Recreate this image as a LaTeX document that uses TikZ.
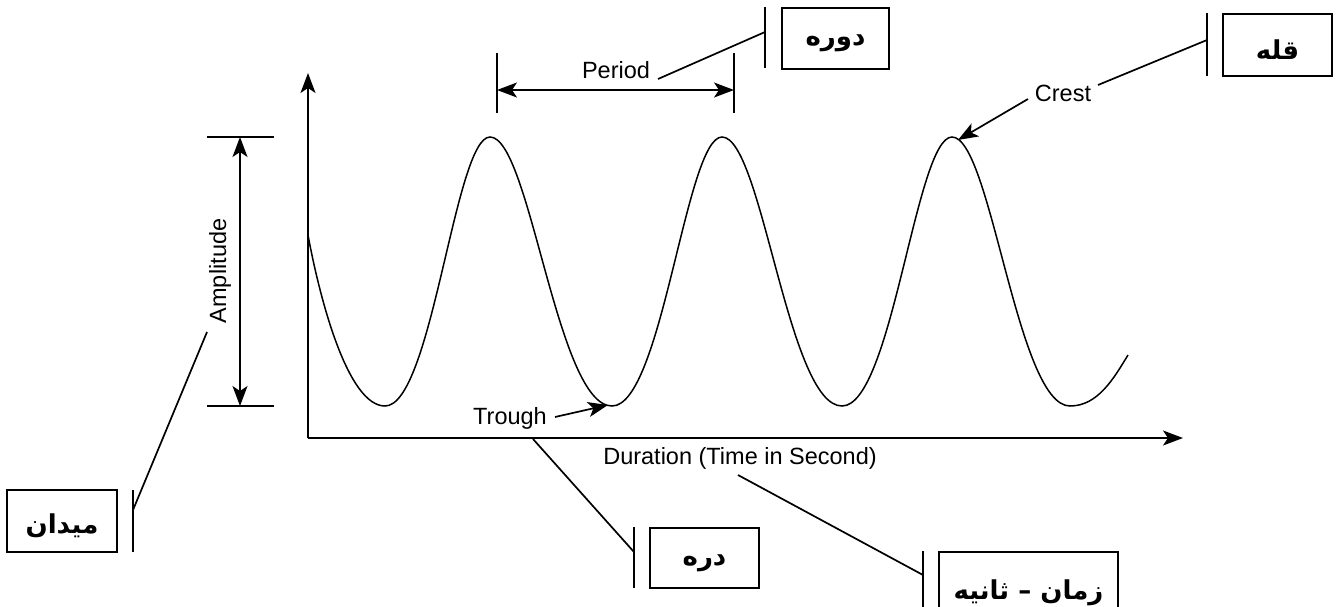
\documentclass[tikz,border=0pt]{standalone}
\usepackage{fontspec}
\setmainfont{Liberation Sans}
\newfontfamily\fa[Script=Arabic]{DejaVu Sans}
\TeXXeTstate=1
\usetikzlibrary{arrows.meta}
\tikzset{
  ln/.style={line width=1.7pt},
  wave/.style={line width=1.5pt},
  tip/.style={-{Stealth[length=20pt,width=15pt,inset=5pt]}},
  dtip/.style={{Stealth[length=20pt,width=15pt,inset=5pt]}-{Stealth[length=20pt,width=15pt,inset=5pt]}},
  lbl/.style={font=\fontsize{23.5}{28}\selectfont, inner sep=0pt},
  fabox/.style={draw, line width=1.7pt, inner sep=0pt},
  fatxt/.style={font=\fa\bfseries\fontsize{26}{30}\selectfont, inner sep=0pt, yshift=-5pt}
}
\begin{document}
\begin{tikzpicture}[x=1pt,y=-1pt]
\useasboundingbox (0,0) rectangle (1336,606);
% axes
\coordinate (O) at (308,438);
\coordinate (Ytop) at (308,73);
\coordinate (Xend) at (1183,438);
\draw[ln,tip] (O) -- (Ytop);
\draw[ln,tip] (O) -- (Xend);
% wave
\draw[wave] (308,235) .. controls (320,300) and (348,406) .. (385,406)
  .. controls (432,406) and (455,137) .. (490,137)
  .. controls (530,137) and (557,406) .. (612,406)
  .. controls (662,406) and (686,137) .. (722,137)
  .. controls (762,137) and (788,406) .. (842,406)
  .. controls (892,406) and (916,137) .. (952,137)
  .. controls (991,137) and (1017,406) .. (1070,406)
  .. controls (1098,406) and (1114,378) .. (1128,355);
% amplitude
\coordinate (At1) at (207,137); \coordinate (At2) at (274,137);
\coordinate (Ab1) at (207,406); \coordinate (Ab2) at (274,406);
\coordinate (Atop) at (240,137); \coordinate (Abot) at (240,406);
\draw[ln] (At1) -- (At2);
\draw[ln] (Ab1) -- (Ab2);
\draw[ln,dtip] (Atop) -- (Abot);
\node[lbl,rotate=90] (amp) at (220,271) {Amplitude};
% period
\coordinate (P1t) at (497,53); \coordinate (P1b) at (497,113);
\coordinate (P2t) at (734,53); \coordinate (P2b) at (734,113);
\coordinate (P1) at (497,90); \coordinate (P2) at (734,90);
\draw[ln] (P1t) -- (P1b);
\draw[ln] (P2t) -- (P2b);
\draw[ln,dtip] (P1) -- (P2);
\node[lbl] (period) at (616,70) {Period};
% crest
\node[lbl] (crest) at (1063,93) {Crest};
\coordinate (Ctip) at (958,140);
\draw[ln,tip] (1028,99) -- (Ctip);
% trough
\node[lbl] (trough) at (510,418) {Trough};
\coordinate (Ttip) at (608,405);
\draw[ln,tip] (555,417) -- (Ttip);
% duration
\node[lbl] (dur) at (740,458) {Duration (Time in Second)};
% Persian boxes
\node[fabox, minimum width=107pt, minimum height=61pt] (dawra) at (835.5,38.5) {};
\node[fatxt] (dawraT) at (dawra.center) {\beginR دوره\endR};
\node[fabox, minimum width=109pt, minimum height=62pt] (qolla) at (1277.5,45) {};
\node[fatxt] (qollaT) at (qolla.center) {\beginR قله\endR};
\node[fabox, minimum width=109pt, minimum height=60pt] (darre) at (704.5,558) {};
\node[fatxt] (darreT) at (darre.center) {\beginR دره\endR};
\node[fabox, minimum width=179pt, minimum height=72pt] (zaman) at (1028.5,588) {};
\node[fatxt] (zamanT) at (zaman.center) {\beginR زمان – ثانیه\endR};
\node[fabox, minimum width=110pt, minimum height=62pt] (meydan) at (62,521) {};
\node[fatxt] (meydanT) at (meydan.center) {\beginR میدان\endR};
% bars
\coordinate (B1t) at (765,7); \coordinate (B1b) at (765,68);
\coordinate (B2t) at (1207,13); \coordinate (B2b) at (1207,76);
\coordinate (B3t) at (634,527); \coordinate (B3b) at (634,588);
\coordinate (B4t) at (923,551); \coordinate (B4b) at (923,620);
\coordinate (B5t) at (133,490); \coordinate (B5b) at (133,552);
\draw[ln] (B1t) -- (B1b);
\draw[ln] (B2t) -- (B2b);
\draw[ln] (B3t) -- (B3b);
\draw[ln] (B4t) -- (B4b);
\draw[ln] (B5t) -- (B5b);
% leaders
\coordinate (L1a) at (658,79); \coordinate (L1b) at (765,32);
\coordinate (L2a) at (1098,85); \coordinate (L2b) at (1207,40);
\coordinate (L3a) at (533,439); \coordinate (L3b) at (634,552);
\coordinate (L4a) at (738,475); \coordinate (L4b) at (923,575);
\coordinate (L5a) at (207,332); \coordinate (L5b) at (133,510);
\draw[ln] (L1a) -- (L1b);
\draw[ln] (L2a) -- (L2b);
\draw[ln] (L3a) -- (L3b);
\draw[ln] (L4a) -- (L4b);
\draw[ln] (L5a) -- (L5b);
\end{tikzpicture}
\end{document}
